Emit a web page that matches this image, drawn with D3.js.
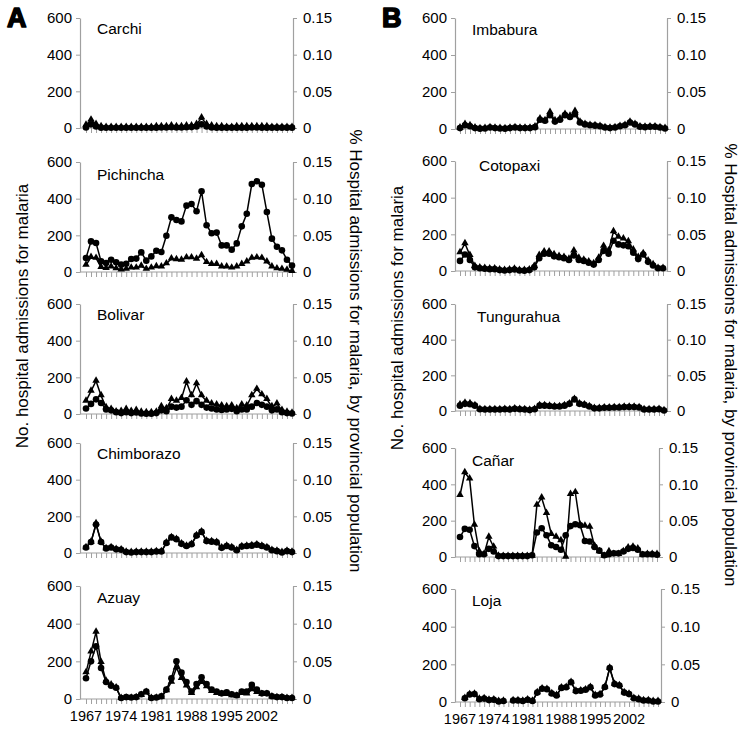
<!DOCTYPE html>
<html><head><meta charset="utf-8">
<script src="https://cdn.jsdelivr.net/npm/d3@7"></script>
<style>
body{margin:0;background:#fff}
svg{display:block}
text{font-family:"Liberation Sans",Arial,sans-serif;fill:#000}
</style>
</head><body>
<svg id="c" width="750" height="730"></svg>
<script>
// ---------- data ----------
const years = [1967,1968,1969,1970,1971,1972,1973,1974,1975,1976,1977,1978,1979,1980,1981,1982,1983,1984,1985,1986,1987,1988,1989,1990,1991,1992,1993,1994,1995,1996,1997,1998,1999,2000,2001,2002,2003,2004,2005,2006,2007,2008];
const yearTickLabels = [1967,1974,1981,1988,1995,2002];
const admTicks = [0,200,400,600];
const pctTicks = [0,0.05,0.10,0.15];

// No. hospital admissions for malaria (left axis, circles)
const carchiAdm = [3,20,8,2,1,1,1,1,1,1,1,1,1,1,2,3,3,4,3,3,4,5,8,20,8,3,2,2,2,2,2,2,2,3,3,2,2,2,2,2,2,2];
const pichinchaAdm = [76,167,158,58,49,67,53,40,45,71,73,107,62,85,116,109,198,298,284,276,362,371,331,440,255,211,215,145,145,122,156,249,318,480,495,476,327,182,138,118,67,35];
const bolivarAdm = [30,55,80,60,25,20,10,5,10,5,8,3,2,2,5,20,15,40,35,40,75,50,70,50,35,30,25,22,25,28,15,25,25,40,60,50,40,20,25,10,5,3];
const chimborazoAdm = [30,60,155,60,25,30,20,18,5,3,5,5,5,5,8,8,55,85,75,50,38,48,95,115,65,62,58,28,38,30,15,35,38,40,45,38,30,15,10,3,10,5];
const azuayAdm = [110,200,280,165,90,70,60,5,10,8,10,25,40,5,8,15,50,110,200,140,90,40,80,115,80,50,40,30,35,25,20,40,40,75,50,30,30,15,10,10,5,5];
const imbaburaAdm = [5,20,15,5,2,3,8,5,3,2,5,8,5,5,5,10,50,45,75,40,50,75,65,80,35,25,20,18,15,8,5,8,15,20,35,25,12,10,12,12,8,3];
const cotopaxiAdm = [55,90,60,20,15,12,10,10,5,3,5,8,3,2,5,20,70,95,95,80,75,70,60,85,60,55,45,35,60,110,95,165,145,140,135,100,65,90,50,30,15,15];
const tungurahuaAdm = [30,40,38,30,10,8,8,8,8,10,8,12,10,8,5,10,30,30,28,25,25,30,40,65,40,35,25,15,15,18,18,20,20,22,22,22,20,8,8,8,10,3];
const canarAdm = [110,155,150,60,15,15,45,30,5,5,5,5,5,5,5,10,135,158,120,65,55,40,120,170,180,175,88,85,55,35,10,15,20,20,30,45,50,40,15,15,15,12];
const lojaAdm = [null,20,40,42,15,18,10,12,3,5,null,8,8,5,12,5,50,70,68,45,35,75,78,105,58,60,65,78,35,40,80,180,95,88,50,42,20,15,8,8,3,3];

// % hospital admissions for malaria, by provincial population (right axis, triangles)
const carchiPct = [0.004,0.011,0.005,0.002,0.001,0.001,0.001,0.001,0.001,0.001,0.001,0.001,0.001,0.001,0.002,0.002,0.002,0.003,0.002,0.002,0.003,0.003,0.005,0.014,0.005,0.003,0.002,0.002,0.001,0.001,0.002,0.002,0.002,0.002,0.002,0.002,0.002,0.001,0.001,0.001,0.001,0.001];
const pichinchaPct = [0.0095,0.02,0.0188,0.0063,0.005,0.007,0.0045,0.003,0.0038,0.0055,0.0055,0.008,0.0038,0.0055,0.0075,0.007,0.0113,0.018,0.017,0.0163,0.0195,0.0195,0.0175,0.0225,0.013,0.0105,0.0105,0.007,0.007,0.0055,0.007,0.0105,0.0138,0.0188,0.0195,0.0188,0.0138,0.007,0.0045,0.0038,0.0025,0.0008];
const bolivarPct = [0.0175,0.0313,0.045,0.025,0.0088,0.0063,0.003,0.0038,0.0063,0.0038,0.005,0.0025,0.002,0.002,0.0025,0.01,0.0075,0.02,0.0175,0.0213,0.0438,0.025,0.0413,0.025,0.0175,0.0138,0.0125,0.0113,0.01,0.0113,0.0075,0.0125,0.0113,0.025,0.0338,0.0263,0.02,0.01,0.0138,0.005,0.0025,0.0013];
const chimborazoPct = [0.0075,0.015,0.04,0.015,0.006,0.0075,0.005,0.0045,0.0013,0.0008,0.0013,0.0013,0.0013,0.0013,0.002,0.002,0.0138,0.021,0.0188,0.0125,0.0095,0.012,0.0238,0.0288,0.0163,0.0155,0.0145,0.007,0.0095,0.0075,0.0038,0.0088,0.0095,0.01,0.0113,0.0095,0.0075,0.0038,0.0025,0.0008,0.0025,0.0013];
const azuayPct = [0.035,0.0625,0.0888,0.0488,0.0238,0.0188,0.015,0.0008,0.0013,0.0013,0.002,0.005,0.0088,0.0008,0.0013,0.0025,0.0113,0.0225,0.0413,0.0275,0.0175,0.0075,0.015,0.0225,0.0163,0.01,0.0075,0.0063,0.0063,0.0045,0.0038,0.0075,0.007,0.0125,0.0088,0.0063,0.0063,0.003,0.002,0.002,0.001,0.001];
const imbaburaPct = [0.0015,0.0063,0.0045,0.0015,0.0005,0.0008,0.002,0.0013,0.0008,0.0005,0.0013,0.002,0.0013,0.0013,0.0013,0.003,0.0138,0.0113,0.0225,0.0113,0.0138,0.02,0.0175,0.0238,0.0095,0.0063,0.005,0.0045,0.0038,0.002,0.0013,0.002,0.0038,0.005,0.0095,0.0063,0.003,0.0025,0.003,0.003,0.002,0.0008];
const cotopaxiPct = [0.025,0.0375,0.0213,0.0063,0.0045,0.0038,0.003,0.003,0.0015,0.001,0.0015,0.0025,0.001,0.0008,0.0015,0.0063,0.0213,0.0263,0.0263,0.0225,0.02,0.0188,0.0163,0.0275,0.0175,0.015,0.0125,0.01,0.0175,0.0338,0.0275,0.0538,0.0463,0.0438,0.04,0.0288,0.0188,0.0238,0.0138,0.0088,0.0038,0.0038];
const tungurahuaPct = [0.0088,0.011,0.0105,0.0075,0.0025,0.002,0.002,0.002,0.002,0.0025,0.002,0.003,0.0025,0.002,0.0013,0.0025,0.0075,0.0075,0.007,0.0063,0.0063,0.0075,0.01,0.0163,0.01,0.0088,0.0063,0.0038,0.0038,0.0045,0.0045,0.005,0.005,0.0055,0.0055,0.0055,0.005,0.002,0.002,0.002,0.0025,0.0008];
const canarPct = [0.085,0.1163,0.1075,0.0438,0.0075,0.0038,0.0275,0.0138,0.0013,0.0008,0.0008,0.0008,0.0008,0.0008,0.0008,0.0013,0.0713,0.0813,0.06,0.0313,0.0275,0.0225,0,0.0863,0.0888,0.0438,0.0425,0.0413,0.015,0.0075,0.0013,0.0075,0.0038,0.0038,0.0075,0.0125,0.0138,0.0113,0.0025,0.0038,0.0038,0.0038];
const lojaPct = [null,0.005,0.01,0.0105,0.0038,0.0045,0.0025,0.003,0.0008,0.0013,null,0.002,0.002,0.0013,0.003,0.0013,0.0125,0.0175,0.017,0.0113,0.0088,0.0188,0.0195,0.0263,0.0145,0.015,0.0163,0.0195,0.0088,0.01,0.02,0.045,0.0238,0.022,0.0125,0.0105,0.005,0.0038,0.002,0.002,0.0008,0.0008];

// ---------- layout ----------
const panels = [
  {name:"Carchi",     adm:carchiAdm,     pct:carchiPct,     top:18,  bottom:128, left:80,  right:293, x0:86,  x1:292, lx:97,  ly:34,  xl:false},
  {name:"Pichincha",  adm:pichinchaAdm,  pct:pichinchaPct,  top:162, bottom:272, left:80,  right:293, x0:86,  x1:292, lx:97,  ly:180, xl:false},
  {name:"Bolivar",    adm:bolivarAdm,    pct:bolivarPct,    top:304, bottom:414, left:80,  right:293, x0:86,  x1:292, lx:97,  ly:320, xl:false},
  {name:"Chimborazo", adm:chimborazoAdm, pct:chimborazoPct, top:443, bottom:553, left:80,  right:293, x0:86,  x1:292, lx:97,  ly:459, xl:false},
  {name:"Azuay",      adm:azuayAdm,      pct:azuayPct,      top:586, bottom:699, left:80,  right:293, x0:86,  x1:292, lx:97,  ly:603, xl:true, xly:721},
  {name:"Imbabura",   adm:imbaburaAdm,   pct:imbaburaPct,   top:18,  bottom:129, left:455, right:667, x0:460, x1:665, lx:472, ly:35,  xl:false},
  {name:"Cotopaxi",   adm:cotopaxiAdm,   pct:cotopaxiPct,   top:161, bottom:271, left:455, right:667, x0:460, x1:663, lx:479, ly:171, xl:false},
  {name:"Tungurahua", adm:tungurahuaAdm, pct:tungurahuaPct, top:304, bottom:411, left:455, right:667, x0:460, x1:664, lx:477, ly:322, xl:false},
  {name:"Cañar",      adm:canarAdm,      pct:canarPct,      top:448, bottom:557, left:455, right:659, x0:460, x1:657, lx:472, ly:466, xl:false},
  {name:"Loja",       adm:lojaAdm,       pct:lojaPct,       top:589, bottom:702, left:455, right:661, x0:460, x1:658, lx:472, ly:606, xl:true, xly:724}
];

const svg = d3.select("#c");
const axisColor = "#a0a0a0";

function styleAxis(sel){
  sel.select(".domain").attr("stroke", axisColor).attr("stroke-width", 1.2);
  sel.selectAll(".tick line").attr("stroke", axisColor).attr("stroke-width", 1);
  sel.selectAll(".tick text").attr("font-family", "Liberation Sans, Arial, sans-serif").attr("fill", "#000");
}

const fmtPct = d => d === 0 ? "0" : d3.format(".2f")(d);

panels.forEach(p => {
  const g = svg.append("g");
  const x = d3.scalePoint().domain(years).range([p.x0, p.x1]);
  const yL = d3.scaleLinear().domain([0, 600]).range([p.bottom, p.top]);
  const yR = d3.scaleLinear().domain([0, 0.15]).range([p.bottom, p.top]);

  // x axis (category ticks)
  const xa = g.append("g").attr("transform", `translate(0,${p.bottom})`)
    .call(d3.axisBottom(x).tickValues(years).tickSize(5).tickSizeOuter(0).tickFormat(""));
  styleAxis(xa);
  xa.select(".domain").attr("d", `M${p.left},0H${p.right}`);

  if (p.xl) {
    g.selectAll("text.year").data(yearTickLabels).enter().append("text")
      .attr("class", "year")
      .attr("x", d => x(d)).attr("y", p.xly)
      .attr("text-anchor", "middle").attr("font-size", 14.5)
      .text(d => d);
  }

  // left axis
  const la = g.append("g").attr("transform", `translate(${p.left},0)`)
    .call(d3.axisLeft(yL).tickValues(admTicks).tickSize(4).tickSizeOuter(0).tickPadding(4));
  styleAxis(la);
  la.selectAll(".tick text").attr("font-size", 15);

  // right axis
  const ra = g.append("g").attr("transform", `translate(${p.right},0)`)
    .call(d3.axisRight(yR).tickValues(pctTicks).tickSize(4).tickSizeOuter(0).tickPadding(6).tickFormat(fmtPct));
  styleAxis(ra);
  ra.selectAll(".tick text").attr("font-size", 15);

  // province label
  g.append("text").attr("x", p.lx).attr("y", p.ly).attr("font-size", 15.5).text(p.name);

  const admData = years.map((yr, i) => ({yr, v: p.adm[i]}));
  const pctData = years.map((yr, i) => ({yr, v: p.pct[i]}));

  // triangle series (right axis)
  const lineR = d3.line().defined(d => d.v != null).x(d => x(d.yr)).y(d => yR(d.v));
  g.append("path").attr("d", lineR(pctData)).attr("fill", "none").attr("stroke", "#000").attr("stroke-width", 1.5);
  const tri = d3.symbol().type(d3.symbolTriangle).size(24);
  g.selectAll("path.tri").data(pctData.filter(d => d.v != null)).enter().append("path")
    .attr("class", "tri")
    .attr("transform", d => `translate(${x(d.yr)},${yR(d.v) - 0.5})`)
    .attr("d", tri()).attr("fill", "#000");

  // circle series (left axis)
  const lineL = d3.line().defined(d => d.v != null).x(d => x(d.yr)).y(d => yL(d.v));
  g.append("path").attr("d", lineL(admData)).attr("fill", "none").attr("stroke", "#000").attr("stroke-width", 1.5);
  g.selectAll("circle").data(admData.filter(d => d.v != null)).enter().append("circle")
    .attr("cx", d => x(d.yr)).attr("cy", d => yL(d.v)).attr("r", 3.3).attr("fill", "#000");
});

// panel letters (heavy, Arial Black-like)
[["A", 7], ["B", 382]].forEach(([t, lx]) => {
  svg.append("text").attr("x", lx).attr("y", 27)
    .attr("font-family", "DejaVu Sans").attr("font-weight", "bold").attr("font-size", 27)
    .attr("stroke", "#000").attr("stroke-width", 1.6).attr("stroke-linejoin", "round")
    .text(t);
});

// axis titles
const leftTitle = "No. hospital admissions for malaria";
const rightTitle = "% Hospital admissions for malaria, by provincial population";
[[22, 316], [397, 318]].forEach(([cx, cy]) => {
  svg.append("text").attr("transform", `translate(${cx},${cy}) rotate(-90)`)
    .attr("text-anchor", "middle").attr("dominant-baseline", "central").attr("font-size", 17).text(leftTitle);
});
[[355, 351], [730, 365]].forEach(([cx, cy]) => {
  svg.append("text").attr("transform", `translate(${cx},${cy}) rotate(90)`)
    .attr("text-anchor", "middle").attr("dominant-baseline", "central").attr("font-size", 17).text(rightTitle);
});
</script>
</body></html>
